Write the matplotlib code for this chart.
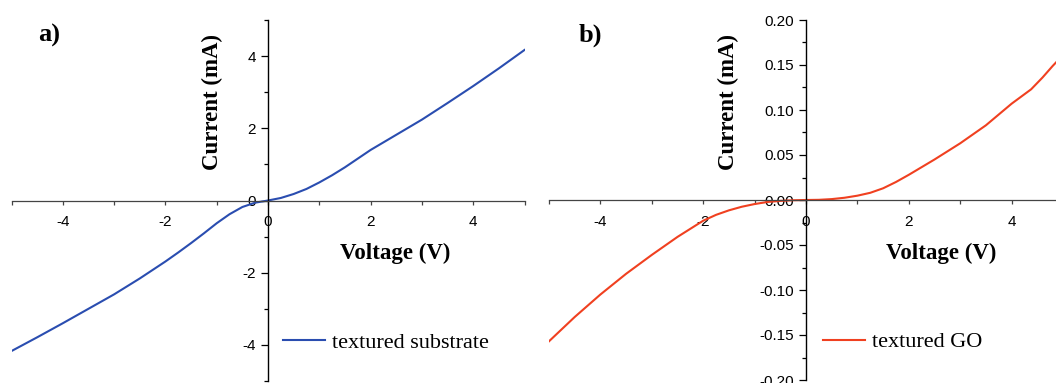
import matplotlib.pyplot as plt
from matplotlib.ticker import MultipleLocator, FormatStrFormatter

# panel a: textured substrate (I-V)
volt_a = [-5.0, -4.5, -4.0, -3.5, -3.0, -2.5, -2.0, -1.75, -1.5, -1.25, -1.0, -0.75, -0.5, -0.25, 0.0,
          0.25, 0.5, 0.75, 1.0, 1.25, 1.5, 2.0, 2.5, 3.0, 3.5, 4.0, 4.5, 5.0]
curr_a = [-4.17, -3.79, -3.40, -3.00, -2.60, -2.16, -1.69, -1.44, -1.18, -0.91, -0.63, -0.38, -0.18, -0.06, 0.0,
          0.07, 0.18, 0.32, 0.50, 0.70, 0.92, 1.40, 1.82, 2.24, 2.70, 3.17, 3.66, 4.17]

# panel b: textured GO
volt_b = [-5.0, -4.5, -4.0, -3.5, -3.0, -2.5, -2.0, -1.75, -1.5, -1.25, -1.0, -0.75, -0.5, -0.25, 0.0,
          0.25, 0.5, 0.75, 1.0, 1.25, 1.5, 1.75, 2.0, 2.5, 3.0, 3.5, 4.0, 4.38, 4.6, 4.8, 5.0]
curr_b = [-0.157, -0.130, -0.105, -0.082, -0.061, -0.041, -0.023, -0.0165, -0.0115, -0.0075, -0.0045, -0.0022, -0.001, -0.0003, 0.0,
          0.0002, 0.001, 0.0025, 0.0048, 0.008, 0.013, 0.020, 0.028, 0.045, 0.063, 0.083, 0.107, 0.123, 0.136, 0.149, 0.161]

blue = "#2a4db0"
red = "#f04020"

plt.rcParams['font.family'] = 'Liberation Sans'
plt.rcParams['axes.unicode_minus'] = False
fig = plt.figure(figsize=(10.56, 3.83), dpi=100)

ax1 = fig.add_axes([11.5/1056, 2/383, 513/1056, 361/383])
ax2 = fig.add_axes([549/1056, 3/383, 514/1056, 360/383])

serif_bold = dict(family='Liberation Serif', weight='bold')

def style(ax, ymaj, ymin, fmt):
    ax.spines['left'].set_position(('data', 0))
    ax.spines['bottom'].set_position(('data', 0))
    ax.spines['top'].set_visible(False)
    ax.spines['right'].set_visible(False)
    ax.spines['left'].set_color('black')
    ax.spines['bottom'].set_color('#444444')
    ax.spines['left'].set_linewidth(1.0)
    ax.spines['bottom'].set_linewidth(0.9)
    ax.patch.set_visible(False)
    ax.xaxis.set_major_locator(MultipleLocator(2))
    ax.xaxis.set_minor_locator(MultipleLocator(1))
    ax.yaxis.set_major_locator(MultipleLocator(ymaj))
    ax.yaxis.set_minor_locator(MultipleLocator(ymin))
    ax.yaxis.set_major_formatter(FormatStrFormatter(fmt))
    ax.tick_params(axis='y', which='major', length=5, width=0.9, labelsize=11, direction='out', pad=3.5)
    ax.tick_params(axis='y', which='minor', length=3, width=0.9, direction='out')
    ax.tick_params(axis='x', which='major', length=3, width=0.9, labelsize=11, direction='out', pad=7.5,
                   colors='#444444', labelcolor='black')
    ax.tick_params(axis='x', which='minor', length=3, width=0.9, direction='out', colors='#444444')

# panel a
ax1.plot(volt_a, curr_a, color=blue, lw=1.5, label='textured substrate')
ax1.set_xlim(-5, 5)
ax1.set_ylim(-5, 5)
style(ax1, 2, 1, '%g')

# panel b
ax2.plot(volt_b, curr_b, color=red, lw=1.5, label='textured GO')
ax2.set_xlim(-5, 5)
ax2.set_ylim(-0.2, 0.2)
style(ax2, 0.05, 0.025, '%.2f')

# axis labels and panel letters
fig.text(212/1056, 1 - 102.5/383, 'Current (mA)', rotation=90, ha='center', va='center', fontsize=16.5, **serif_bold)
fig.text(728/1056, 1 - 102.5/383, 'Current (mA)', rotation=90, ha='center', va='center', fontsize=16.5, **serif_bold)
fig.text(395/1056, 1 - 253/383, 'Voltage (V)', ha='center', va='center', fontsize=16.5, **serif_bold)
fig.text(941/1056, 1 - 253/383, 'Voltage (V)', ha='center', va='center', fontsize=16.5, **serif_bold)
fig.text(49/1056, 1 - 35/383, 'a)', ha='center', va='center', fontsize=19, **serif_bold)
fig.text(590/1056, 1 - 35/383, 'b)', ha='center', va='center', fontsize=19, **serif_bold)

leg_font = dict(family='Liberation Serif', size=16)
ax1.legend(loc='center left', bbox_to_anchor=(283/1056, 1 - 342.5/383), bbox_transform=fig.transFigure,
           frameon=False, prop=leg_font, handlelength=1.9, handletextpad=0.3, borderpad=0, borderaxespad=0)
ax2.legend(loc='center left', bbox_to_anchor=(823/1056, 1 - 342/383), bbox_transform=fig.transFigure,
           frameon=False, prop=leg_font, handlelength=1.9, handletextpad=0.3, borderpad=0, borderaxespad=0)

fig.savefig('out.png', dpi=100)
